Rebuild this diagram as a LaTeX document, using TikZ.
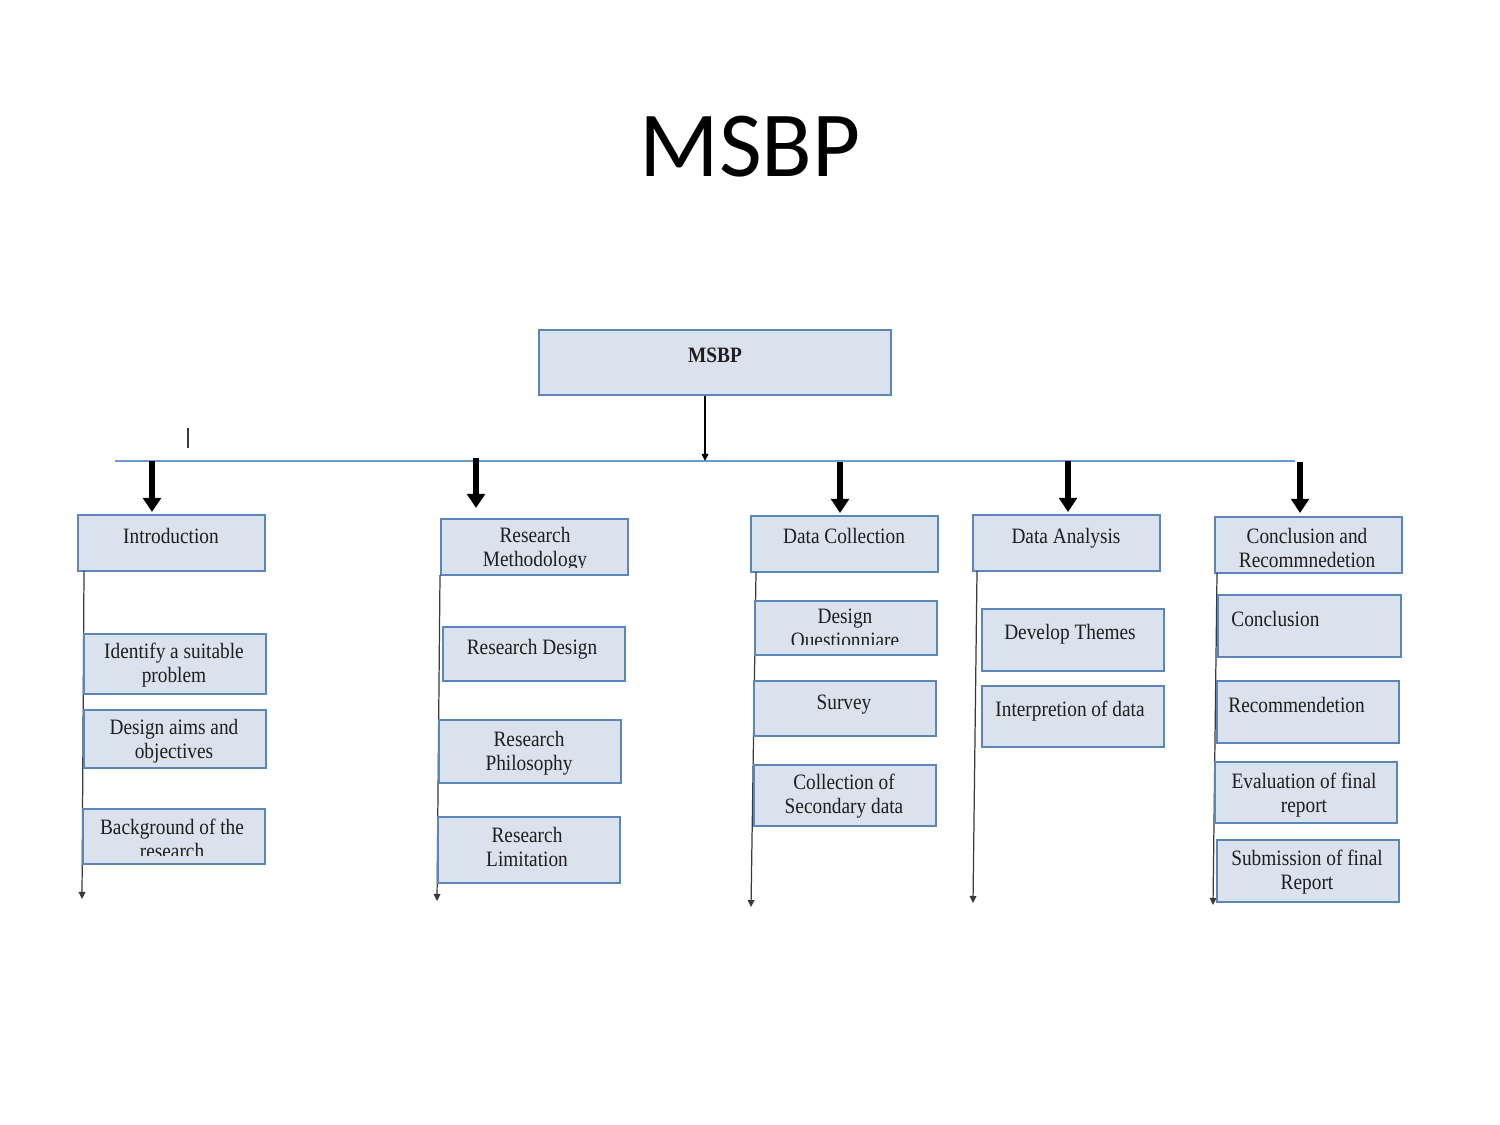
\documentclass[tikz,border=0pt]{standalone}
\usepackage{fontspec}
\setmainfont{Liberation Serif}[FakeStretch=0.88]
\newfontfamily\titlefont{Carlito}
\usetikzlibrary{arrows.meta,fit}
\definecolor{boxfill}{HTML}{DAE2EE}
\definecolor{boxline}{HTML}{5A86BA}
\definecolor{hline}{HTML}{6A9BD0}
\definecolor{vline}{HTML}{3A3A3A}
\definecolor{txtc}{HTML}{1E1E1E}
\tikzset{
  bx/.style={draw=boxline, fill=boxfill, line width=0.78pt, inner sep=0pt},
  txt/.style={inner sep=0pt, align=center, text=txtc, font=\fontsize{12.5}{13.6}\selectfont},
  thick arrow/.style={line width=3.8pt, -{Triangle[length=8pt,width=10pt]}},
  thin arrow/.style={line width=0.7pt, vline, -{Triangle[length=4pt,width=3.8pt]}},
  blueline/.style={draw=hline, line width=0.9pt},
}
\begin{document}
\begin{tikzpicture}[x=0.02cm,y=-0.02cm]
\useasboundingbox (0,0) rectangle (1500,1125);
\fill[white] (0,0) rectangle (1500,1125);

% title
\node[inner sep=0pt, anchor=base, font=\titlefont\fontsize{53}{60}\selectfont] (title) at (750,177) {MSBP};

% root
\node[bx, fit={(539,330)(891,395)}] (root) {};
\node[txt, anchor=base, font=\bfseries\fontsize{12.5}{13.6}\selectfont] (root-t) at (715,362) {MSBP};

% junction line
\coordinate (hl) at (115,461);
\coordinate (hr) at (1295,461);
\coordinate (j) at (705,461);
\draw[blueline] (hl) -- (hr);
\draw[thin arrow, black] (root.south -| j) -- (j);
\coordinate (tick1) at (188,428);
\coordinate (tick2) at (188,448);
\draw[line width=0.7pt, vline] (tick1) -- (tick2);

% top-level boxes
\node[bx, fit={(78,515)(265,571)}] (intro) {};
\node[txt, anchor=base] (intro-t) at (171,543) {Introduction};

\node[bx, fit={(441,519)(628,575)}] (meth) {};
\begin{scope}
\clip (441,519) rectangle (628,567);
\node[txt, anchor=base] (meth-t) at (535,566) {Research\\Methodology};
\end{scope}

\node[bx, fit={(751,516)(938,572)}] (coll) {};
\node[txt, anchor=base] (coll-t) at (844,543) {Data Collection};

\node[bx, fit={(973,515)(1160,571)}] (anal) {};
\node[txt, anchor=base] (anal-t) at (1066,543) {Data Analysis};

\node[bx, fit={(1215,517)(1402,573)}] (conc) {};
\node[txt, anchor=base] (conc-t) at (1307,567) {Conclusion and\\Recommnedetion};

% thick arrows
\coordinate (a1s) at (152,461); \coordinate (a1e) at (152,512);
\coordinate (a2s) at (476,458); \coordinate (a2e) at (476,508);
\coordinate (a3s) at (840,462); \coordinate (a3e) at (840,513);
\coordinate (a4s) at (1068,461); \coordinate (a4e) at (1068,512);
\coordinate (a5s) at (1300,462); \coordinate (a5e) at (1300,513);
\draw[thick arrow] (a1s) -- (a1e);
\draw[thick arrow] (a2s) -- (a2e);
\draw[thick arrow] (a3s) -- (a3e);
\draw[thick arrow] (a4s) -- (a4e);
\draw[thick arrow] (a5s) -- (a5e);

% vertical lines
\coordinate (v1s) at (84,571);   \coordinate (v1e) at (82,899);
\coordinate (v2s) at (440,575);  \coordinate (v2e) at (437,901);
\coordinate (v3s) at (756,572);  \coordinate (v3e) at (751,907);
\coordinate (v4s) at (977,571);  \coordinate (v4e) at (973,903);
\coordinate (v5s) at (1217,573); \coordinate (v5e) at (1213,905);
\draw[thin arrow] (v1s) -- (v1e);
\draw[thin arrow] (v2s) -- (v2e);
\draw[thin arrow] (v3s) -- (v3e);
\draw[thin arrow] (v4s) -- (v4e);
\draw[thin arrow] (v5s) -- (v5e);

% column 1
\node[bx, fit={(84,634)(266,694)}] (c11) {};
\node[txt, anchor=base] (c11-t) at (174,682) {Identify a suitable\\problem};
\node[bx, fit={(84,710)(266,768)}] (c12) {};
\node[txt, anchor=base] (c12-t) at (174,758) {Design aims and\\objectives};
\node[bx, fit={(83,809)(265,864)}] (c13) {};
\begin{scope}
\clip (83,809) rectangle (265,855);
\node[txt, anchor=base] (c13-t) at (172,858) {Background of the\\research};
\end{scope}

% column 2
\node[bx, fit={(443,627)(625,681)}] (c21) {};
\node[txt, anchor=base] (c21-t) at (532,654) {Research Design};
\node[bx, fit={(439,720)(621,783)}] (c22) {};
\node[txt, anchor=base] (c22-t) at (529,770) {Research\\Philosophy};
\node[bx, fit={(438,817)(620,883)}] (c23) {};
\node[txt, anchor=base] (c23-t) at (527,866) {Research\\Limitation};

% column 3
\node[bx, fit={(755,601)(937,655)}] (c31) {};
\begin{scope}
\clip (755,601) rectangle (937,644);
\node[txt, anchor=base] (c31-t) at (845,647) {Design\\Questionniare};
\end{scope}
\node[bx, fit={(754,681)(936,736)}] (c32) {};
\node[txt, anchor=base] (c32-t) at (844,709) {Survey};
\node[bx, fit={(754,765)(936,826)}] (c33) {};
\node[txt, anchor=base] (c33-t) at (844,813) {Collection of\\Secondary data};

% column 4
\node[bx, fit={(982,609)(1164,671)}] (c41) {};
\node[txt, anchor=base] (c41-t) at (1070,639) {Develop Themes};
\node[bx, fit={(982,686)(1164,747)}] (c42) {};
\node[txt, anchor=base] (c42-t) at (1070,716) {Interpretion of data};

% column 5
\node[bx, fit={(1218,595)(1401,657)}] (c51) {};
\node[txt, anchor=base west] (c51-t) at (1231,626) {Conclusion};
\node[bx, fit={(1217,681)(1399,743)}] (c52) {};
\node[txt, anchor=base west] (c52-t) at (1228,712) {Recommendetion};
\node[bx, fit={(1215,762)(1397,823)}] (c53) {};
\node[txt, anchor=base] (c53-t) at (1304,812) {Evaluation of final\\report};
\node[bx, fit={(1217,840)(1399,902)}] (c54) {};
\node[txt, anchor=base] (c54-t) at (1307,889) {Submission of final\\Report};
\end{tikzpicture}
\end{document}
